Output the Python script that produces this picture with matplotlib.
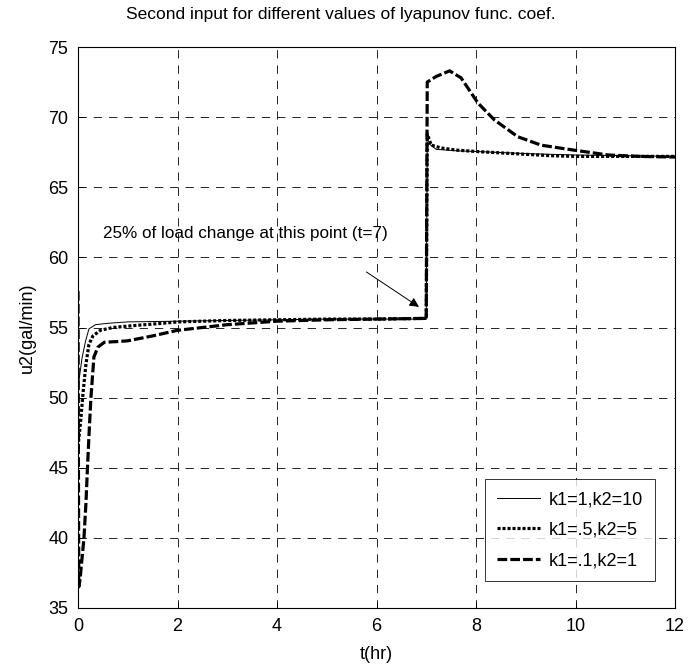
import matplotlib
matplotlib.use("Agg")
import matplotlib.pyplot as plt

plt.rcParams['font.family'] = ['Liberation Sans', 'DejaVu Sans']
plt.rcParams['lines.scale_dashes'] = False

# Data
t_k1 = [0, 0.03, 0.08, 0.15, 0.22, 0.35, 0.6, 1.0, 2, 3, 4, 5, 6, 7.0,
        7.02, 7.2, 7.6, 8, 9, 10, 11, 12]
u_k1 = [50.5, 51.5, 52.8, 54.0, 54.9, 55.2, 55.3, 55.4, 55.45, 55.5, 55.55, 55.6, 55.6, 55.6,
        68.2, 67.7, 67.6, 67.55, 67.4, 67.3, 67.25, 67.2]

t_k2 = [0, 0.02, 0.05, 0.1, 0.16, 0.22, 0.3, 0.45, 0.7, 1.0, 1.7, 2, 3, 4, 5, 6, 7.0,
        7.02, 7.1, 7.3, 7.6, 8, 8.5, 9, 9.5, 10, 11, 12]
u_k2 = [46.5, 47.2, 48.2, 50.3, 52.4, 53.8, 54.4, 54.8, 55.0, 55.1, 55.3, 55.4, 55.5, 55.55,
        55.6, 55.6, 55.65,
        68.8, 68.0, 67.8, 67.65, 67.55, 67.45, 67.35, 67.25, 67.2, 67.2, 67.2]

t_k3 = [0, 0.015, 0.04, 0.08, 0.12, 0.16, 0.19, 0.23, 0.26, 0.32, 0.4, 0.53, 0.8, 1.0,
        1.5, 2, 3, 4, 5, 6, 7.0,
        7.02, 7.2, 7.47, 7.7, 8.04, 8.37, 8.84, 9.31, 9.98, 10.66, 11.3, 12]
u_k3 = [57.6, 36.5, 37.0, 38.5, 40.0, 42.5, 45.0, 48.0, 50.0, 52.9, 53.6, 53.95, 54.0, 54.05,
        54.4, 54.8, 55.2, 55.45, 55.55, 55.6, 55.65,
        72.5, 72.9, 73.3, 72.8, 71.0, 69.8, 68.6, 68.0, 67.64, 67.3, 67.2, 67.15]

labels = ['k1=1,k2=10', 'k1=.5,k2=5', 'k1=.1,k2=1']
x_ticks = [0, 2, 4, 6, 8, 10, 12]
y_ticks = [35, 40, 45, 50, 55, 60, 65, 70, 75]

fig = plt.figure(figsize=(7, 6.68), dpi=100)
ax = fig.add_axes([78/700, 1-608/668, (675-78)/700, (608-47)/668])

ax.plot(t_k1, u_k1, color='black', lw=0.7, label=labels[0])
ax.plot(t_k2, u_k2, color='black', lw=2.3, dashes=(2.2, 1.4), dash_capstyle='butt', label=labels[1])
ax.plot(t_k3, u_k3, color='black', lw=2.3, dashes=(7.0, 2.2), dash_capstyle='butt', label=labels[2])

ax.set_xlim(0, 12)
ax.set_ylim(35, 75)
ax.set_xticks(x_ticks)
ax.set_yticks(y_ticks)
ax.tick_params(direction='in', length=4, labelsize=13, width=0.6, pad=7)
ax.grid(True, color='black', lw=0.6, linestyle=(0, (6, 5)))
for s in ax.spines.values():
    s.set_linewidth(0.8)

ax.set_xlabel('t(hr)', fontsize=13, labelpad=8)
ax.set_ylabel('u2(gal/min)', fontsize=13, labelpad=9)

fig.text(341/700, 1-15/668, 'Second input for different values of lyapunov func. coef.',
         ha='center', va='center', fontsize=12.5)

ax.annotate('', xy=(6.9, 56.36), xytext=(5.75, 59.07),
            arrowprops=dict(arrowstyle='-|>', color='black', lw=0.7, mutation_scale=14))
ax.text(0.5, 61.7, '25% of load change at this point (t=7)', fontsize=12.3, va='center', ha='left')

leg = ax.legend(loc='lower right', bbox_to_anchor=(655/700, 1-581/668), bbox_transform=fig.transFigure,
                fontsize=13, frameon=True, fancybox=False, edgecolor='black', handlelength=2.4,
                borderpad=0.65, labelspacing=0.75, handletextpad=0.5, borderaxespad=0)
leg.get_frame().set_linewidth(0.7)

fig.savefig('out.png', dpi=100)
